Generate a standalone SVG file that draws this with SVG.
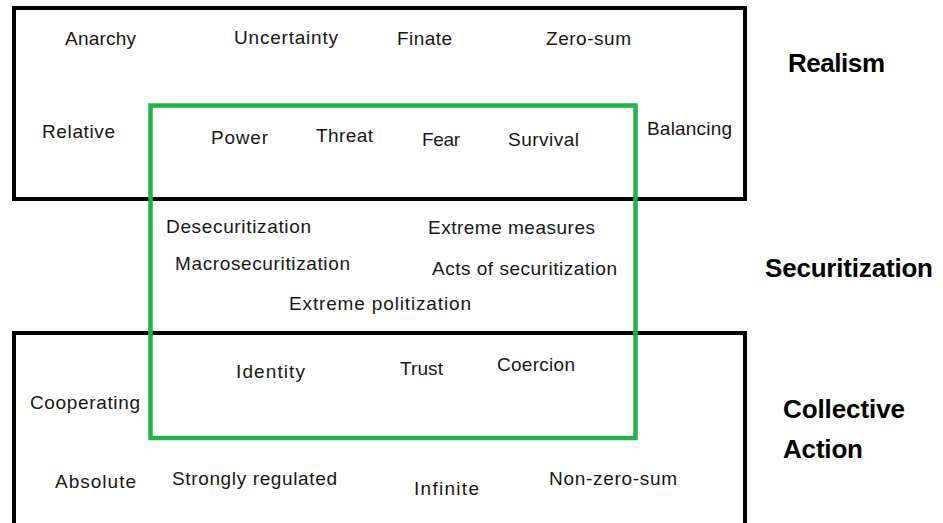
<svg xmlns="http://www.w3.org/2000/svg" width="943" height="523" viewBox="0 0 943 523">
<style>
.box{fill:none;stroke:#000;stroke-width:4}
.sec{fill:none;stroke:#22b14c;stroke-width:4.5}
.t{font-family:"Liberation Sans",Arial,sans-serif;font-size:19px;fill:#161616}
.h{font-family:"Liberation Sans",Arial,sans-serif;font-size:26px;font-weight:bold;fill:#000}
</style>
<rect width="943" height="523" fill="#fff"/>
<g id="realism">
<rect class="box" x="14" y="8" width="731" height="191"/>
<text class="t" x="65" y="45" textLength="71">Anarchy</text>
<text class="t" x="234" y="44" textLength="104">Uncertainty</text>
<text class="t" x="397" y="45" textLength="55">Finate</text>
<text class="t" x="546" y="45" textLength="85">Zero-sum</text>
<text class="t" x="42" y="138" textLength="73">Relative</text>
<text class="t" x="647" y="135" textLength="85">Balancing</text>
<text class="h" x="788" y="72" textLength="97">Realism</text>
</g>
<g id="collective-action">
<rect class="box" x="14" y="333" width="731" height="200"/>
<text class="t" x="30" y="409" textLength="110">Cooperating</text>
<text class="t" x="55" y="488" textLength="81">Absolute</text>
<text class="t" x="172" y="485" textLength="165">Strongly regulated</text>
<text class="t" x="414" y="495" textLength="65">Infinite</text>
<text class="t" x="549" y="485" textLength="128">Non-zero-sum</text>
<text class="h" x="783" y="418" textLength="122">Collective</text>
<text class="h" x="783" y="458" textLength="80">Action</text>
</g>
<g id="securitization">
<rect class="sec" x="150.5" y="105.5" width="485" height="332.5"/>
<text class="t" x="211" y="144" textLength="57">Power</text>
<text class="t" x="316" y="142" textLength="57">Threat</text>
<text class="t" x="422" y="146" textLength="38">Fear</text>
<text class="t" x="508" y="146" textLength="71">Survival</text>
<text class="t" x="166" y="233" textLength="145">Desecuritization</text>
<text class="t" x="428" y="234" textLength="167">Extreme measures</text>
<text class="t" x="175" y="270" textLength="175">Macrosecuritization</text>
<text class="t" x="432" y="275" textLength="185">Acts of securitization</text>
<text class="t" x="289" y="310" textLength="182">Extreme politization</text>
<text class="t" x="236" y="378" textLength="69">Identity</text>
<text class="t" x="400" y="375" textLength="43">Trust</text>
<text class="t" x="497" y="371" textLength="78">Coercion</text>
<text class="h" x="765" y="277" textLength="168">Securitization</text>
</g>
</svg>
